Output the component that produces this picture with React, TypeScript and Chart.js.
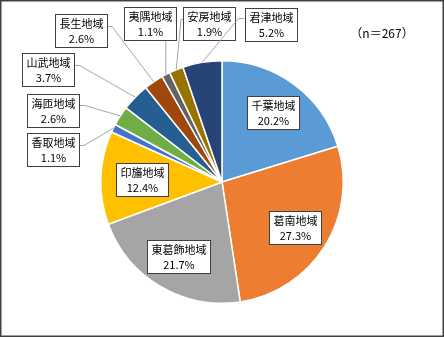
import React, { useEffect, useRef } from "react";
import { Chart, registerables } from "chart.js";

Chart.register(...registerables);

const regions = ["千葉地域", "葛南地域", "東葛飾地域", "印旛地域", "香取地域", "海匝地域", "山武地域", "長生地域", "夷隅地域", "安房地域", "君津地域"];
const shares = [20.2, 27.3, 21.7, 12.4, 1.1, 2.6, 3.7, 2.6, 1.1, 1.9, 5.2];
const sliceColors = ["#5B9BD5", "#ED7D31", "#A5A5A5", "#FFC000", "#4472C4", "#70AD47", "#255E91", "#9E480E", "#636363", "#997300", "#264478"];
const sampleNote = "（n＝267）";

// label placement: inside (fraction of radius) or outside (box centre offset from pie centre)
const labelLayout: any[] = [
  { mode: "in", r: 0.71 },
  { mode: "in", r: 0.71 },
  { mode: "in", r: 0.71 },
  { mode: "in", r: 0.66 },
  { mode: "out", dx: -169, dy: -32.5, side: "right", elbow: 5, ay: -4 },
  { mode: "out", dx: -169, dy: -71.5, side: "right", elbow: 6, ay: -5 },
  { mode: "out", dx: -174.5, dy: -112.5, side: "right", elbow: 6, ay: -4 },
  { mode: "out", dx: -141, dy: -151.5, side: "right", elbow: 5, ay: -4 },
  { mode: "out", dx: -72.5, dy: -158.5, side: "bottom", elbow: 0, ay: 0 },
  { mode: "out", dx: -13, dy: -158.5, side: "left", elbow: 2, ay: -4 },
  { mode: "out", dx: 48.5, dy: -157.5, side: "left", elbow: 6, ay: -6 },
];

const FONT = '"Noto Sans CJK JP", "Noto Sans", sans-serif';

const labelPlugin = {
  id: "pieLabels",
  afterDatasetsDraw(chart: any) {
    const ctx = chart.ctx as CanvasRenderingContext2D;
    const meta = chart.getDatasetMeta(0);
    ctx.save();
    ctx.font = `11px ${FONT}`;
    meta.data.forEach((arc: any, i: number) => {
      const p = arc.getProps(["x", "y", "startAngle", "endAngle", "outerRadius"], true);
      const mid = (p.startAngle + p.endAngle) / 2;
      const lay = labelLayout[i];
      const name = regions[i];
      const pct = shares[i].toFixed(1) + "%";
      ctx.font = `11px ${FONT}`;
      const w = Math.round(Math.max(ctx.measureText(name).width, 30) + 8);
      const h = 33;
      let cx: number, cy: number;
      if (lay.mode === "in") {
        cx = p.x + Math.cos(mid) * p.outerRadius * lay.r;
        cy = p.y + Math.sin(mid) * p.outerRadius * lay.r;
      } else {
        cx = p.x + lay.dx;
        cy = p.y + lay.dy;
        const px = p.x + Math.cos(mid) * p.outerRadius;
        const py = p.y + Math.sin(mid) * p.outerRadius;
        ctx.strokeStyle = "#A6A6A6";
        ctx.lineWidth = 1;
        ctx.beginPath();
        if (lay.side === "bottom") {
          ctx.moveTo(px, py);
          ctx.lineTo(px, cy + h / 2);
        } else {
          const sx = lay.side === "right" ? cx + w / 2 : cx - w / 2;
          const ex = lay.side === "right" ? sx + lay.elbow : sx - lay.elbow;
          const ly = cy + lay.ay;
          ctx.moveTo(sx, ly);
          ctx.lineTo(ex, ly);
          ctx.lineTo(px, py);
        }
        ctx.stroke();
      }
      const bx = Math.round(cx - w / 2) + 0.5;
      const by = Math.round(cy - h / 2) + 0.5;
      ctx.fillStyle = "#FFFFFF";
      ctx.fillRect(bx, by, w, h);
      ctx.strokeStyle = "#404040";
      ctx.lineWidth = 1;
      ctx.strokeRect(bx, by, w, h);
      ctx.fillStyle = "#000000";
      ctx.textAlign = "center";
      ctx.textBaseline = "middle";
      ctx.font = `11px ${FONT}`;
      ctx.fillText(name, bx + w / 2, by + h / 2 - 7.5);
      ctx.font = `11px ${FONT}`;
      ctx.fillText(pct, bx + w / 2, by + h / 2 + 7.5);
    });
    // sample size note
    ctx.font = `12px ${FONT}`;
    ctx.textAlign = "center";
    ctx.textBaseline = "middle";
    ctx.fillStyle = "#000000";
    ctx.fillText(sampleNote, 382, 33);
    // outer frame
    ctx.strokeStyle = "#404040";
    ctx.lineWidth = 1.5;
    ctx.strokeRect(0.75, 0.75, chart.width - 1.5, chart.height - 1.5);
    ctx.restore();
  },
};

export default function App() {
  const ref = useRef<HTMLCanvasElement | null>(null);
  useEffect(() => {
    if (!ref.current) return;
    const chart = new Chart(ref.current, {
      type: "pie",
      data: {
        labels: regions,
        datasets: [
          {
            data: shares,
            backgroundColor: sliceColors,
            borderColor: "#FFFFFF",
            borderWidth: 1.5,
            hoverOffset: 0,
          },
        ],
      },
      options: {
        responsive: false,
        animation: false,
        events: [],
        layout: { padding: { top: 59, bottom: 32, left: 100, right: 100 } },
        plugins: {
          legend: { display: false },
          tooltip: { enabled: false },
          title: { display: false },
        },
      },
      plugins: [labelPlugin],
    });
    return () => chart.destroy();
  }, []);
  return (
    <div style={{ position: "fixed", left: 0, top: 0, width: 444, height: 337, background: "#FFFFFF" }}>
      <canvas ref={ref} width={444} height={337} style={{ width: 444, height: 337, display: "block" }} />
    </div>
  );
}
